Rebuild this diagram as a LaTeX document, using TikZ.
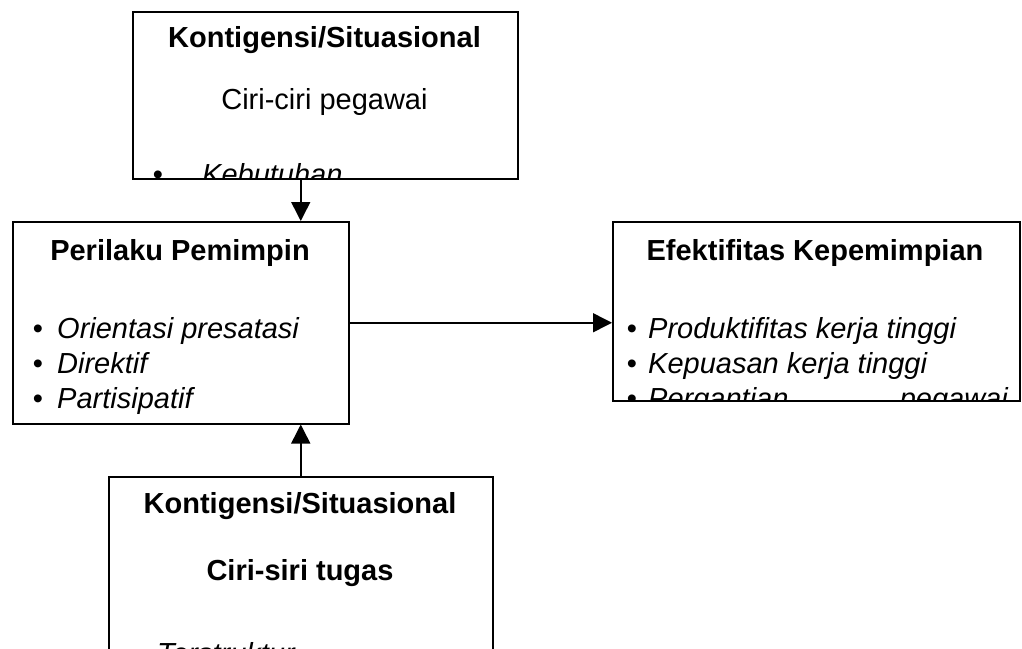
\documentclass[tikz,border=0pt]{standalone}
\usepackage{fontspec}
\setmainfont{Liberation Sans}
\usetikzlibrary{arrows.meta}
\begin{document}
\begin{tikzpicture}[x=1pt,y=-1pt,
  box/.style={draw, line width=1.5pt, rectangle, inner sep=0pt, anchor=north west},
  hd/.style={inner sep=0pt, anchor=base, font=\fontsize{29}{34}\selectfont\bfseries},
  rg/.style={inner sep=0pt, anchor=base, font=\fontsize{29}{34}\selectfont},
  it/.style={inner sep=0pt, anchor=base west, font=\fontsize{29}{34}\selectfont\itshape},
  bul/.style={inner sep=0pt, anchor=base, font=\fontsize{29}{34}\selectfont},
  conn/.style={line width=1.5pt, -{Triangle[length=19pt,width=19pt]}}]
\clip (0,0) rectangle (1022,648);
\fill[white] (0,0) rectangle (1022,648);
% boxes
\node[box, minimum width=385pt, minimum height=167pt] (ktop) at (132,11) {};
\node[box, minimum width=336pt, minimum height=202pt] (peri) at (12,221) {};
\node[box, minimum width=407pt, minimum height=179pt] (efek) at (612,221) {};
\node[box, minimum width=384pt, minimum height=190pt] (kbot) at (108,476) {};
% top box text
\begin{scope}
\clip (ktop.south west) rectangle (ktop.north east);
\node[hd] (ktopT) at (324.5,47) {Kontigensi/Situasional};
\node[rg] (ktopC) at (324.5,109) {Ciri-ciri pegawai};
\node[bul] (ktopB) at (158,184) {\textbullet};
\node[it] (ktopI) at (202,184) {Kebutuhan};
\end{scope}
% perilaku text
\node[hd] (periT) at (180,260) {Perilaku Pemimpin};
\node[bul] (periB1) at (38,338) {\textbullet};
\node[it] (periI1) at (57,338) {Orientasi presatasi};
\node[bul] (periB2) at (38,373) {\textbullet};
\node[it] (periI2) at (57,373) {Direktif};
\node[bul] (periB3) at (38,408) {\textbullet};
\node[it] (periI3) at (57,408) {Partisipatif};
% efektifitas text
\begin{scope}
\clip (efek.south west) rectangle (efek.north east);
\node[hd] (efekT) at (815,260) {Efektifitas Kepemimpian};
\node[bul] (efekB1) at (632,338) {\textbullet};
\node[it] (efekI1) at (648,338) {Produktifitas kerja tinggi};
\node[bul] (efekB2) at (632,373) {\textbullet};
\node[it] (efekI2) at (648,373) {Kepuasan kerja tinggi};
\node[bul] (efekB3) at (632,408) {\textbullet};
\node[it] (efekI3) at (648,408) {Pergantian};
\node[it, anchor=base east] (efekI3b) at (1008,408) {pegawai};
\end{scope}
% bottom box text
\begin{scope}
\clip (kbot.south west) rectangle (kbot.north east);
\node[hd] (kbotT) at (300,513) {Kontigensi/Situasional};
\node[hd] (kbotC) at (300,580) {Ciri-siri tugas};
\node[bul] (kbotB) at (133,663) {\textbullet};
\node[it] (kbotI) at (157,663) {Terstruktur};
\end{scope}
% connectors
\draw[conn] (ktop.south -| kbot.north) -- (peri.north -| kbot.north);
\draw[conn] (kbot.north) -- (peri.south -| kbot.north);
\draw[conn] (peri.east) -- (peri.east -| efek.west);
\end{tikzpicture}
\end{document}
